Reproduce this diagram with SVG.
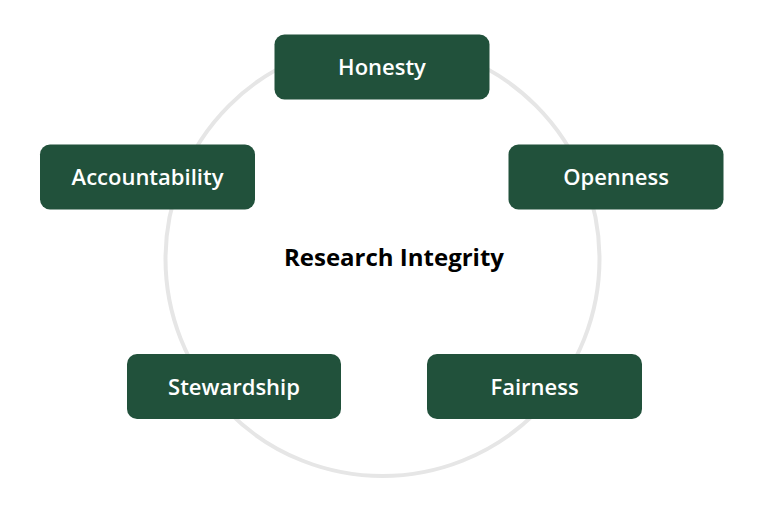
<svg xmlns="http://www.w3.org/2000/svg" width="768" height="508" viewBox="0 0 768 508">
<style>
.node rect{fill:#21513b;}
.node text{fill:#ffffff;font-family:"Open Sans","Noto Sans",sans-serif;font-weight:600;font-size:22px;text-anchor:middle;}
.ring{fill:none;stroke:#e6e6e6;stroke-width:4;}
.center{fill:#000000;font-family:"Open Sans","Noto Sans",sans-serif;font-weight:700;font-size:24px;text-anchor:middle;}
</style>
<rect x="0" y="0" width="768" height="508" fill="#ffffff"/>
<g id="connectors">
<circle class="ring" cx="382.5" cy="259" r="217"/>
</g>
<g id="center-label">
<text class="center" x="394" y="266">Research Integrity</text>
</g>
<g id="honesty" class="node">
<rect x="274.5" y="34.5" width="215" height="65" rx="10"/>
<text x="382" y="75">Honesty</text>
</g>
<g id="accountability" class="node">
<rect x="40" y="144.5" width="215" height="65" rx="10"/>
<text x="147.5" y="185">Accountability</text>
</g>
<g id="openness" class="node">
<rect x="508.5" y="144.5" width="215" height="65" rx="10"/>
<text x="616" y="185">Openness</text>
</g>
<g id="stewardship" class="node">
<rect x="127" y="354" width="214" height="65" rx="10"/>
<text x="234" y="394.5">Stewardship</text>
</g>
<g id="fairness" class="node">
<rect x="427" y="354" width="215" height="65" rx="10"/>
<text x="534.5" y="394.5">Fairness</text>
</g>
</svg>
